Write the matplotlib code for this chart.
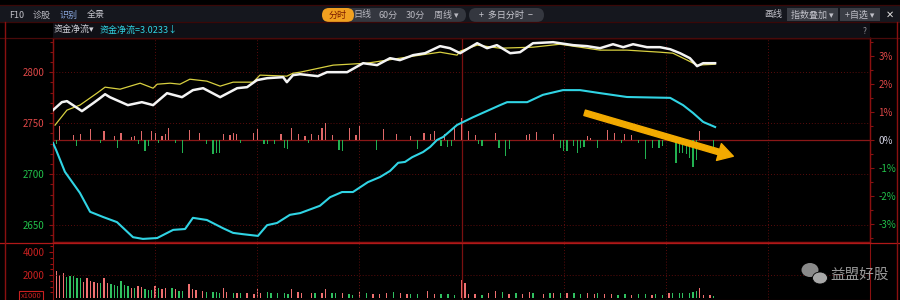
import numpy as np
import matplotlib
matplotlib.use("Agg")
import matplotlib.pyplot as plt
from matplotlib.lines import Line2D
from matplotlib.patches import Rectangle, FancyBboxPatch, Ellipse, FancyArrowPatch

plt.rcParams['font.family'] = ['Noto Sans CJK SC', 'DejaVu Sans']

# ---- data (minutes from open, 0..240) ----
pre_close = 2733.5

white_min = [0, 2.6, 4.1, 8.5, 11.8, 13.8, 15.3, 16.7, 22.0, 26.1,
             29.4, 33.5, 37.9, 41.1, 44.1, 49.1, 54.1, 57.0, 59.9, 62.9,
             67.6, 68.7, 70.5, 72.6, 77.8, 80.5, 86.4, 91.1, 95.2, 99.0,
             101.9, 105.8, 109.3, 113.7, 116.6, 119.6, 124.6, 127.5, 130.4, 134.3,
             137.2, 141.0, 146.9, 152.8, 156.9, 160.7, 164.5, 167.5, 170.4, 174.5,
             178.3, 181.3, 184.2, 187.1, 189.2, 191.0, 194.5]
white_px = [2762.8, 2770.6, 2771.6, 2761.8, 2769.6, 2774.5, 2778.4, 2775.5, 2767.7, 2770.6,
            2767.7, 2779.4, 2775.5, 2782.4, 2784.3, 2775.5, 2784.3, 2785.3, 2792.2, 2794.1,
            2795.1, 2790.2, 2797.1, 2798.0, 2796.1, 2800.0, 2800.0, 2808.8, 2806.9, 2813.7,
            2811.8, 2816.7, 2818.6, 2825.5, 2823.5, 2818.6, 2828.4, 2823.5, 2826.5, 2818.6,
            2819.6, 2828.4, 2829.4, 2826.5, 2825.5, 2823.5, 2827.4, 2824.5, 2827.4, 2824.5,
            2824.5, 2822.5, 2818.6, 2813.7, 2805.9, 2808.8, 2808.8]

avg_min = [0.6, 4.1, 7.9, 12.9, 15.3, 19.7, 25.6, 29.4, 30.6, 34.4,
           37.3, 40.2, 45.2, 49.1, 52.9, 58.8, 60.8, 68.7, 70.5, 72.6,
           82.3, 92.2, 101.9, 107.8, 113.7, 118.7, 119.6, 124.6, 131.3, 141.0,
           148.9, 160.7, 168.6, 178.3, 182.1, 186.3, 189.2, 194.5]
avg_px = [2748.1, 2762.8, 2767.7, 2779.4, 2785.3, 2783.3, 2789.2, 2784.3, 2788.2, 2789.2,
          2788.2, 2793.1, 2791.2, 2786.3, 2790.2, 2790.2, 2797.1, 2796.1, 2799.0, 2800.0,
          2806.9, 2808.8, 2813.7, 2816.7, 2819.6, 2816.7, 2820.6, 2826.5, 2823.5, 2824.5,
          2827.4, 2821.6, 2821.6, 2819.6, 2818.6, 2811.8, 2806.9, 2807.8]

flow_min = [0, 0.9, 3.5, 7.9, 10.9, 14.7, 18.8, 23.5, 26.4, 30.6,
            35.3, 38.8, 41.1, 45.2, 49.9, 52.9, 55.8, 60.2, 62.9, 65.8,
            69.6, 72.6, 78.4, 81.4, 84.9, 88.1, 92.5, 96.1, 99.0, 101.4,
            103.4, 105.5, 108.7, 110.8, 112.8, 114.6, 118.7, 123.4, 131.3, 133.4,
            139.3, 143.9, 149.8, 154.8, 160.7, 168.6, 181.3, 185.1, 188.0, 191.0,
            194.5]
flow_val = [-0.7, -2.3, -7.4, -12.3, -16.7, -17.9, -19.1, -22.6, -23.0, -22.8,
            -20.9, -20.7, -18.1, -18.6, -20.5, -21.6, -21.9, -22.3, -19.8, -19.3,
            -17.4, -17.0, -15.3, -13.3, -12.1, -12.1, -9.8, -8.6, -7.2, -5.3,
            -5.1, -4.0, -2.8, -1.6, 0.0, 0.7, 3.5, 5.3, 8.1, 8.8,
            8.8, 10.5, 11.6, 11.6, 10.9, 10.0, 9.8, 8.1, 6.3, 4.2,
            3.02]

bar_min = [1, 2, 6, 7, 8, 11, 14, 15, 18, 19,
           20, 23, 24, 25, 26, 27, 28, 29, 30, 31,
           32, 33, 34, 36, 38, 40, 43, 45, 47, 48,
           49, 50, 52, 53, 54, 55, 59, 60, 62, 63,
           65, 67, 68, 69, 70, 72, 74, 75, 76, 78,
           79, 80, 82, 84, 85, 87, 89, 90, 95, 97,
           101, 105, 107, 109, 111, 112, 114, 115, 116, 117,
           118, 120, 122, 124, 125, 126, 130, 131, 133, 134,
           139, 140, 142, 147, 149, 150, 151, 153, 154, 155,
           156, 157, 158, 160, 163, 165, 167, 168, 170, 172,
           174, 176, 178, 179, 183, 184, 185, 186, 187, 188,
           189, 190, 194]
bar_val = [-4.3, 14, 4.7, -6, 5.7, 11, -2.7, 9, 4, -7.7,
           7.3, 3.3, 4, -4.3, 9, -11, -6, 8.7, 7.3, -2.7,
           4, 5.7, 12, -2.7, -12.7, 10, 7.3, -4.3, -14.3, -12.7,
           -12.7, 5.7, 4.7, 7.3, 5.7, -3.3, 7.3, 11.3, -4.3, -4.3,
           -4.3, 5.7, -7.7, -9.3, 12.3, 5.7, 4, -2.7, 5.7, 4.7,
           12.3, 17.3, 4.7, -10, -11, 12.3, 4.7, 14, -10, 11.3,
           5.7, 4, -9.3, 7.3, 5.7, 9, -6, 5.7, -6.7, -6,
           14, 22, 9, 4.7, -4.3, -6, 7.3, -7.7, -16, -9.3,
           4.7, 5.7, 8, 5.7, -7.7, -11, -11, -6, -12.7, -7.7,
           -7, 4, 2, -8, 10, 7, -2.7, 5.7, 5, -3.3,
           -19, -7.7, -8, -6, -22.7, -12.7, -13, -14.3, -18, -27,
           -20, 9, -7]

vol_min = [0, 1, 2, 3, 4, 5, 6, 7, 8, 9,
           10, 11, 12, 13, 14, 15, 16, 17, 18, 19,
           20, 21, 22, 23, 24, 25, 26, 27, 28, 29,
           30, 31, 32, 33, 35, 36, 37, 38, 40, 41,
           42, 44, 45, 47, 48, 49, 50, 51, 53, 54,
           55, 57, 59, 60, 61, 63, 64, 66, 68, 69,
           70, 72, 73, 76, 77, 79, 80, 82, 83, 85,
           87, 88, 90, 92, 94, 96, 98, 100, 102, 104,
           105, 107, 110, 112, 114, 116, 118, 120, 121, 122,
           124, 126, 128, 130, 132, 134, 136, 138, 140, 141,
           144, 146, 147, 149, 151, 153, 155, 157, 159, 160,
           162, 164, 166, 168, 170, 172, 174, 176, 177, 179,
           181, 182, 184, 185, 187, 188, 189, 190, 191, 193,
           194]
vol_val = [6000, 2380, 2000, 2150, 1850, 1910, 1910, 1770, 1710, 1420,
           1710, 1510, 1420, 1330, 1330, 1770, 1280, 1220, 1130, 1040,
           1510, 1130, 1040, 840, 840, 1040, 930, 760, 700, 700,
           1040, 840, 760, 840, 840, 760, 640, 610, 1220, 760,
           700, 640, 550, 550, 550, 460, 840, 550, 460, 460,
           460, 410, 350, 760, 460, 550, 410, 410, 410, 350,
           760, 550, 410, 410, 410, 410, 760, 460, 410, 410,
           350, 260, 550, 410, 350, 350, 460, 550, 410, 350,
           350, 350, 640, 350, 350, 350, 260, 1570, 1280, 350,
           350, 260, 410, 640, 550, 350, 410, 350, 550, 410,
           350, 410, 410, 460, 410, 410, 350, 410, 350, 410,
           350, 350, 260, 350, 260, 350, 350, 260, 350, 260,
           410, 460, 410, 410, 460, 550, 640, 840, 260, 260,
           180]
vol_up = [1, 1, 1, 1, 0, 0, 0, 0, 0, 1,
          1, 1, 1, 1, 0, 1, 1, 0, 0, 0,
          0, 0, 0, 1, 0, 1, 1, 0, 0, 0,
          1, 0, 1, 1, 0, 1, 0, 0, 1, 1,
          1, 1, 0, 0, 0, 0, 1, 1, 0, 1,
          0, 1, 1, 1, 1, 0, 0, 0, 0, 0,
          1, 1, 1, 1, 0, 1, 1, 0, 0, 1,
          0, 0, 1, 0, 1, 1, 1, 0, 1, 1,
          0, 0, 1, 1, 0, 0, 0, 1, 1, 1,
          1, 0, 1, 1, 0, 1, 0, 1, 1, 0,
          1, 0, 1, 0, 1, 0, 0, 1, 1, 0,
          1, 1, 0, 0, 1, 0, 0, 1, 0, 0,
          1, 0, 0, 0, 0, 0, 0, 1, 1, 1,
          0]

price_ticks = [2650, 2700, 2750, 2800]
pct_ticks = [-3, -2, -1, 0, 1, 2, 3]
vol_ticks = [2000, 4000]

RED = '#e04848'
GREEN = '#22c04a'
GRID = '#5a0c0c'
FRAME = '#8a1010'
W, H = 900, 300


def fx(x):
    return x / W


def fy(y):
    return 1 - y / H


fig = plt.figure(figsize=(9, 3), dpi=100, facecolor='black')

# ---- main price panel ----
ax = fig.add_axes([fx(53), fy(242), fx(817), fy(38) - fy(242)])
ax.set_facecolor('black')
ax.set_xlim(0, 240)
ax.set_ylim(pre_close - 100, pre_close + 100)
ax.set_xticks([])
ax.set_yticks(price_ticks)
ax.set_yticks(np.arange(2640, 2834, 10), minor=True)
ax.set_yticklabels([str(t) for t in price_ticks], fontsize=7)
ax.tick_params(axis='y', which='both', colors=FRAME, length=3, width=0.8, pad=3)
ax.tick_params(axis='y', which='minor', length=2)
for lab, t in zip(ax.get_yticklabels(), price_ticks):
    lab.set_color(RED if t > pre_close else GREEN)
for s in ax.spines.values():
    s.set_color(FRAME)
    s.set_linewidth(1.0)
for t in price_ticks:
    ax.axhline(t, color=GRID, lw=0.7, ls=(0, (1, 2)))
for m in [30, 60, 90, 150, 180, 210]:
    ax.axvline(m, color=GRID, lw=0.7, ls=(0, (1, 2)))
ax.axvline(120, color='#7a1010', lw=0.9)
ax.axhline(pre_close, color='#8a1818', lw=0.9)

ax_r = ax.twinx()
ax_r.set_ylim(-100 / pre_close * 100, 100 / pre_close * 100)
ax_r.set_yticks(pct_ticks)
ax_r.set_yticks(np.arange(-3.5, 3.6, 0.5), minor=True)
ax_r.set_yticklabels(['%d%%' % p for p in pct_ticks], fontsize=7)
ax_r.tick_params(axis='y', which='both', colors=FRAME, length=3, width=0.8, pad=3)
ax_r.tick_params(axis='y', which='minor', length=2)
for lab, p in zip(ax_r.get_yticklabels(), pct_ticks):
    lab.set_color(RED if p > 0 else (GREEN if p < 0 else '#d0d0e0'))
for s in ax_r.spines.values():
    s.set_color(FRAME)

ax_b = ax.twinx()
ax_b.set_ylim(-102, 102)
ax_b.axis('off')
bv = np.array(bar_val)
ax_b.bar(bar_min, bv, width=0.35, color=np.where(bv > 0, '#e06868', '#22b050'))

ax_c = ax.twinx()
ax_c.set_ylim(-23.72, 23.72)
ax_c.axis('off')
ax_c.plot(flow_min, flow_val, color='#30d4e4', lw=1.5)

ax_l = ax.twinx()
ax_l.set_ylim(ax.get_ylim())
ax_l.axis('off')
ax_l.plot(avg_min, avg_px, color='#d8d040', lw=0.9)
ax_l.plot(white_min, white_px, color='#f4f4f4', lw=1.8)

# ---- volume panel ----
axv = fig.add_axes([fx(53), 0, fx(817), fy(243)])
axv.set_facecolor('black')
axv.set_xlim(0, 240)
axv.set_ylim(-170, 4785)
axv.set_xticks([])
axv.set_yticks(vol_ticks)
axv.set_yticks(np.arange(500, 4785, 500), minor=True)
axv.set_yticklabels([str(v) for v in vol_ticks], fontsize=7)
axv.tick_params(axis='y', which='both', colors='#a01010', length=3, width=0.8, pad=3)
axv.tick_params(axis='y', which='minor', length=2)
for lab in axv.get_yticklabels():
    lab.set_color('#c82020')
for s in axv.spines.values():
    s.set_color(FRAME)
vu = np.array(vol_up, dtype=bool)
axv.bar(vol_min, vol_val, width=0.4, color=np.where(vu, '#f07070', '#30c060'))
axv.axhline(2000, color=GRID, lw=0.7, ls=(0, (1, 2)))
for m in [30, 60, 90, 150, 180, 210]:
    axv.axvline(m, color=GRID, lw=0.7, ls=(0, (1, 2)))
axv.axvline(120, color='#7a1010', lw=0.9)

# ---- overlay in pixel coordinates: toolbar, frame, arrow, watermark ----
ov = fig.add_axes([0, 0, 1, 1])
ov.set_xlim(0, W)
ov.set_ylim(H, 0)
ov.axis('off')
ov.set_zorder(10)

ov.add_patch(Rectangle((0, 5), W, 17, fc='#15171e', ec='none'))
ov.add_patch(Rectangle((53, 22), 817, 16, fc='#0f1016', ec='none'))
for y, c in [(5, '#3a0808'), (22, '#3a0808'), (38, '#4a0a0a'), (242.5, '#b01818')]:
    ov.plot([0, W], [y, y], color=c, lw=0.9)
for x in [4.5, 897]:
    ov.plot([x, x], [22, H], color=FRAME, lw=1.0)

tb_y = 15
for x, s, c in [(9, 'F10', '#c0c0c8'), (33, '诊股', '#b8b8c0'), (60, '识别', '#8aa8e0'), (87, '全景', '#c0c0c8')]:
    ov.text(x, tb_y, s, fontsize=6.5, color=c, va='center')

for x0, wd, col in [(346, 120, '#34373f'), (469, 75, '#34373f'), (322, 32, '#f0a020')]:
    ov.add_patch(FancyBboxPatch((x0, 8), wd, 14, boxstyle='round,pad=0,rounding_size=7',
                                fc=col, ec='none'))
ov.text(338, tb_y, '分时', fontsize=6.5, color='#7a1a00', ha='center', va='center')
for x, s in [(362, '日线'), (388, '60分'), (415, '30分'), (446, '周线 ▾')]:
    ov.text(x, tb_y, s, fontsize=6.5, color='#b8b8c0', ha='center', va='center')
ov.text(506, tb_y, '+  多日分时  −', fontsize=6.5, color='#c8c8d0', ha='center', va='center')
ov.text(773, tb_y, '画线', fontsize=6.5, color='#c0c0c8', ha='center', va='center')
ov.add_patch(Rectangle((787, 8), 51, 13, fc='#3a3d45', ec='none'))
ov.add_patch(Rectangle((840, 8), 40, 13, fc='#3a3d45', ec='none'))
ov.text(812, tb_y, '指数叠加 ▾', fontsize=6.5, color='#c0c0c8', ha='center', va='center')
ov.text(860, tb_y, '+自选 ▾', fontsize=6.5, color='#c0c0c8', ha='center', va='center')
ov.text(890, tb_y, '✕', fontsize=7, color='#e0e0e0', ha='center', va='center', family='DejaVu Sans')

# info row
ov.text(54, 30.5, '资金净流▾', fontsize=6.5, color='#d0d0d8', va='center')
ov.text(100, 30.5, '资金净流=3.0233↓', fontsize=6.5, color='#30d4e4', va='center')
ov.text(865, 31, '?', fontsize=6, color='#909098', ha='center', va='center')

ov.text(31, 296, 'x1000', fontsize=5.5, color='#c82020', ha='center', va='center',
        bbox=dict(boxstyle='square,pad=0.15', fc='black', ec='#c82020', lw=0.8))

# orange arrow drawn over the chart
ov.add_patch(FancyArrowPatch((582, 112), (736, 157),
                             arrowstyle='simple,head_length=1.2,head_width=1.4,tail_width=0.45',
                             mutation_scale=9, color='#f2aa00'))

# watermark
ov.add_patch(Ellipse((810, 270), 17, 14, fc='#8a8a8a', ec='none'))
ov.add_patch(Ellipse((820, 278), 15, 12, fc='#a8a8a8', ec='black', lw=0.6))
ov.text(860, 275, '益盟好股', fontsize=10.5, color='#9a9a9a', ha='center', va='center')

fig.savefig('out.png', dpi=100, facecolor='black')
